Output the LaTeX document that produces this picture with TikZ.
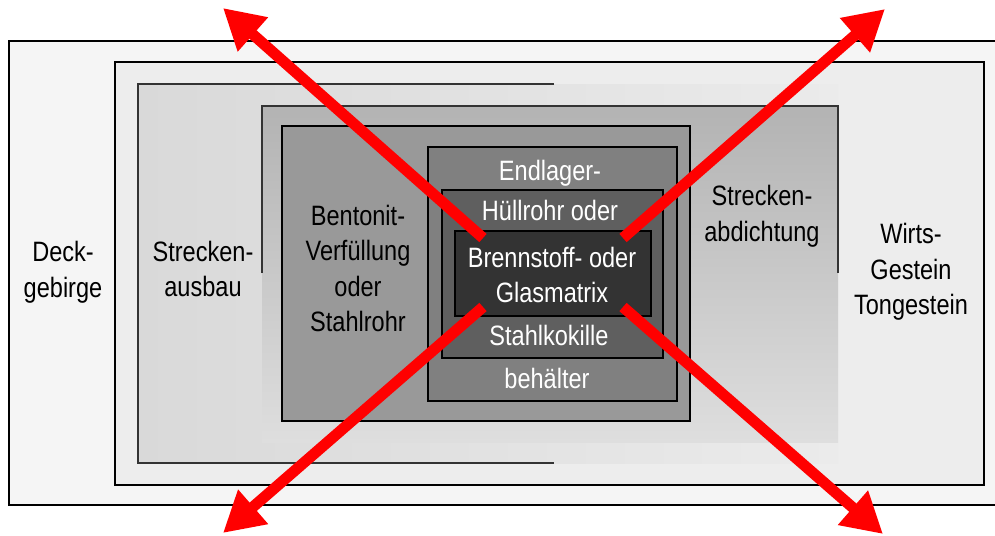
\documentclass[tikz,border=0pt]{standalone}
\usepackage{fontspec}
\setmainfont{Liberation Sans}
\usetikzlibrary{arrows.meta}
\definecolor{deckgrau}{HTML}{F5F5F5}
\definecolor{wirtgrau}{HTML}{EDEDED}
\definecolor{ausbaugrau}{HTML}{D9D9D9}
\definecolor{dichtoben}{HTML}{B3B3B3}
\definecolor{dichtunten}{HTML}{DEDEDE}
\definecolor{bentgrau}{HTML}{999999}
\definecolor{behgrau}{HTML}{808080}
\definecolor{huellgrau}{HTML}{5F5F5F}
\definecolor{kerngrau}{HTML}{333333}
\begin{document}
\begin{tikzpicture}[x=0.02cm,y=-0.02cm,
    lbl/.style={align=center,inner sep=0pt,yscale=1.19,
      font=\fontsize{13.4}{17}\selectfont},
    wlbl/.style={lbl,text=white},
    box/.style={draw=black,line width=1pt},
    ray/.style={draw=red,line width=0.22cm,
      -{Triangle[length=0.8cm,width=0.86cm]}}]
  \useasboundingbox (0,0) rectangle (995,535);
  \fill[white] (0,0) rectangle (995,535);
  % Gebirge
  \draw[box,fill=deckgrau] (9,41) rectangle (1000,505);
  \draw[box,fill=wirtgrau] (115,62) rectangle (984,485);
  % Streckenausbau und -abdichtung
  \shade[left color=ausbaugrau,right color=wirtgrau!90!ausbaugrau] (138,84) rectangle (838,463);
  \draw[black!80,line width=.8pt] (554,84) -- (138,84) -- (138,463) -- (554,463);
  \shade[top color=dichtoben,bottom color=dichtunten] (262,106) rectangle (838,442);
  \draw[black!80,line width=.8pt] (262,273) -- (262,106) -- (838,106) -- (838,273);
  % Behaelter
  \foreach \xa/\ya/\xb/\yb/\c in {
    282/126/690/421/bentgrau, 428/147/677/401/behgrau,
    442/190/663/358/huellgrau, 455/231/651/316/kerngrau}{
    \draw[box,fill=\c] (\xa,\ya) rectangle (\xb,\yb);
  }
  % Beschriftung
  \node[lbl] (deck) at (63,272) {Deck-\\gebirge};
  \node[lbl] (ausbau) at (203,269) {Strecken-\\ausbau};
  \node[lbl] (bentonit) at (358,268.5) {Bentonit-\\Verfüllung\\oder\\Stahlrohr};
  \node[wlbl,anchor=base] (endlager) at (550,180) {Endlager-};
  \node[wlbl,anchor=base] (behaelter) at (547,388) {behälter};
  \node[wlbl,anchor=base] (huellrohr) at (550,220) {Hüllrohr oder};
  \node[wlbl,anchor=base] (kokille) at (549,345) {Stahlkokille};
  \node[wlbl] (kern) at (552,275) {Brennstoff- oder\\Glasmatrix};
  \node[lbl] (abdichtung) at (762,216) {Strecken-\\abdichtung};
  \node[lbl] (wirt) at (911,272) {Wirts-\\Gestein\\Tongestein};
  % Freisetzung
  \coordinate (qnw) at (483,238); \coordinate (znw) at (223,8);
  \coordinate (qno) at (623,238); \coordinate (zno) at (885,9);
  \coordinate (qsw) at (483,307); \coordinate (zsw) at (223,533);
  \coordinate (qso) at (623,307); \coordinate (zso) at (883,534);
  \foreach \q/\z in {qnw/znw,qno/zno,qsw/zsw,qso/zso}
    \draw[ray] (\q) -- (\z);
\end{tikzpicture}
\end{document}
